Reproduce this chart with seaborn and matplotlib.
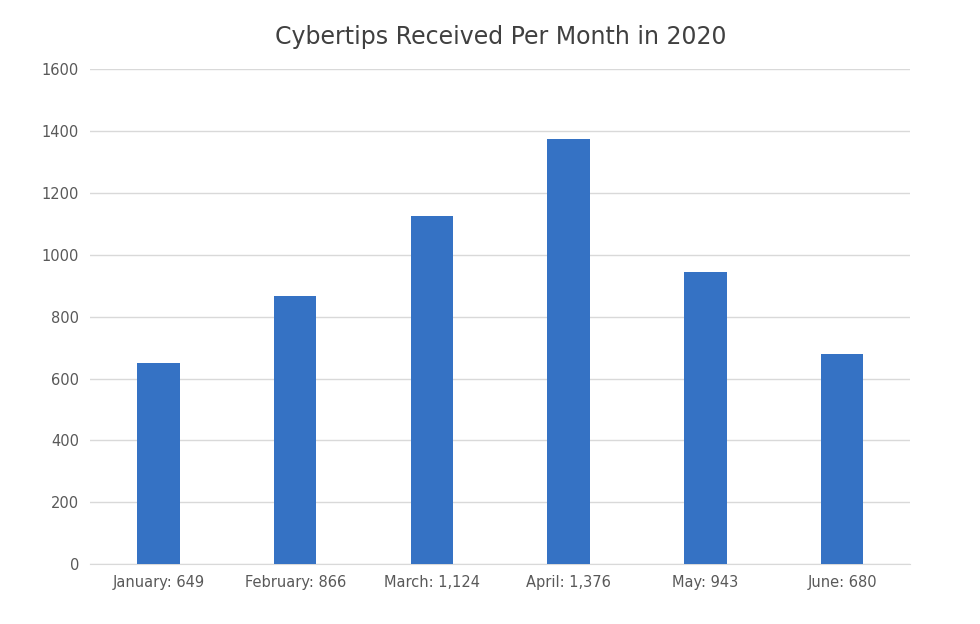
import matplotlib
matplotlib.use("Agg")
import matplotlib.pyplot as plt
import seaborn as sns
import pandas as pd

months = ["January: 649", "February: 866", "March: 1,124", "April: 1,376", "May: 943", "June: 680"]
tips = [649, 866, 1124, 1376, 943, 680]
yticks = [0, 200, 400, 600, 800, 1000, 1200, 1400, 1600]

df = pd.DataFrame({"month": months, "tips": tips})

fig = plt.figure(figsize=(9.8, 6.24), dpi=100)
ax = fig.add_axes([0.092, 0.096, 0.837, 0.793])
sns.barplot(data=df, x="month", y="tips", color="#3572C4", width=0.31, saturation=1, ax=ax, zorder=3)

ax.set_ylim(0, 1600)
ax.set_yticks(yticks)
ax.grid(axis="y", color="#d9d9d9", linewidth=1, zorder=0)
ax.set_axisbelow(True)
for s in ["top", "right", "left"]:
    ax.spines[s].set_visible(False)
ax.spines["bottom"].set_color("#d9d9d9")
ax.tick_params(length=0, colors="#595959", labelsize=10.5, pad=8)
ax.set_xlabel("")
ax.set_ylabel("")
ax.set_title("Cybertips Received Per Month in 2020", fontsize=17, color="#404040", pad=18)

fig.savefig("out.png", dpi=100)
